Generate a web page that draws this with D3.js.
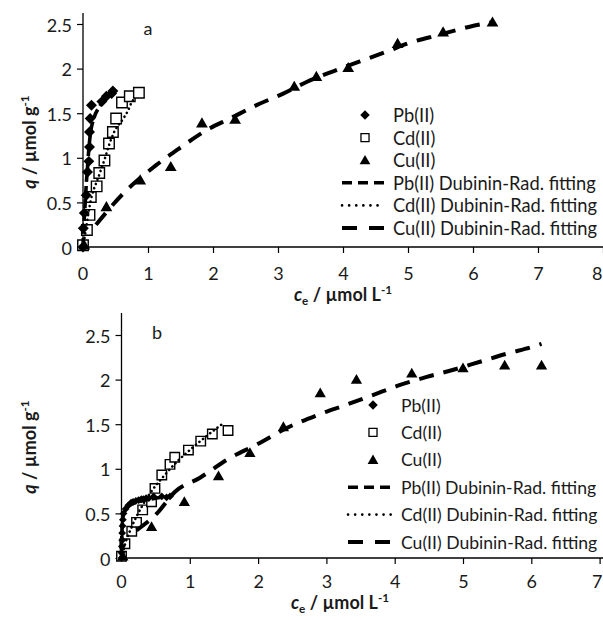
<!DOCTYPE html>
<html><head><meta charset="utf-8">
<script src="https://cdn.jsdelivr.net/npm/d3@7"></script>
<style>body{margin:0;background:#fff}svg{display:block}text{font-family:Lato,"Open Sans",sans-serif;fill:#1a1a1a}</style>
</head><body>
<svg id="c" width="603" height="620"></svg>
<script>
// ---------- data, panel a ----------
const xTicksA = [0,1,2,3,4,5,6,7,8];
const yTicks = [0,0.5,1,1.5,2,2.5];
const yTickLabels = ["0","0.5","1","1.5","2","2.5"];
const pbA_x = [0,0.005,0.02,0.05,0.07,0.09,0.1,0.1,0.11,0.13,0.29,0.36,0.44,0.46];
const pbA_q = [0,0.21,0.38,0.58,0.84,0.96,1.12,1.29,1.44,1.59,1.63,1.69,1.72,1.75];
const cdA_x = [0,0.06,0.1,0.12,0.21,0.25,0.33,0.4,0.46,0.51,0.6,0.72,0.86];
const cdA_q = [0.02,0.19,0.36,0.56,0.68,0.83,0.97,1.16,1.29,1.44,1.62,1.69,1.73];
const cuA_x = [0.02,0.36,0.88,1.35,1.83,2.34,3.25,3.59,4.08,4.84,5.54,6.3];
const cuA_q = [0.02,0.45,0.75,0.9,1.39,1.43,1.8,1.91,2.01,2.28,2.41,2.52];
const pbFitA_x = [0,0.01,0.03,0.05,0.07,0.09,0.12,0.17,0.25,0.35,0.46];
const pbFitA_q = [0,0.2,0.45,0.7,0.9,1.1,1.3,1.45,1.57,1.66,1.75];
const cdFitA_x = [0,0.05,0.1,0.25,0.34,0.39,0.48,0.62,0.7,0.74,0.8];
const cdFitA_q = [0,0.22,0.45,0.81,1.0,1.12,1.29,1.44,1.54,1.61,1.67];
const cuFitA_x = [0.2,0.62,1.13,1.49,1.9,2.26,2.67,3.08,3.44,3.85,4.26,4.67,5.03,5.49,5.95,6.3];
const cuFitA_q = [0.25,0.6,0.92,1.11,1.31,1.44,1.59,1.72,1.85,1.97,2.08,2.19,2.29,2.38,2.47,2.52];
// ---------- data, panel b ----------
const xTicksB = [0,1,2,3,4,5,6,7];
const pbB_x = [0,0,0.005,0.01,0.01,0.015,0.02,0.03,0.06,0.1,0.14,0.17,0.21,0.25,0.29,0.32,0.36,0.4,0.47,0.59,0.66,0.71];
const pbB_q = [0,0.06,0.13,0.2,0.28,0.36,0.43,0.5,0.55,0.59,0.62,0.63,0.64,0.65,0.66,0.66,0.67,0.67,0.69,0.69,0.68,0.69];
const cdB_x = [0,0.05,0.15,0.22,0.31,0.44,0.49,0.59,0.71,0.78,0.98,1.16,1.33,1.56];
const cdB_q = [0.02,0.16,0.3,0.4,0.54,0.63,0.78,0.93,1.05,1.13,1.21,1.31,1.39,1.43];
const cuB_x = [0.02,0.44,0.92,1.42,1.88,2.37,2.91,3.44,4.25,5.0,5.61,6.15];
const cuB_q = [0.02,0.35,0.63,0.92,1.18,1.47,1.85,2.0,2.07,2.13,2.16,2.16];
const pbFitB_x = [0,0.005,0.02,0.05,0.1,0.2,0.35,0.5,0.72];
const pbFitB_q = [0,0.25,0.45,0.53,0.58,0.62,0.65,0.67,0.69];
const cdFitB_x = [0,0.05,0.15,0.3,0.45,0.61,0.8,1.03,1.25,1.49];
const cdFitB_q = [0,0.15,0.35,0.58,0.76,0.91,1.07,1.23,1.37,1.51];
const cuFitB_x = [0.22,0.52,0.78,1.15,1.54,2.0,2.4,2.86,3.3,3.69,4.08,4.47,4.86,5.25,5.64,6.03,6.15];
const cuFitB_q = [0.31,0.5,0.74,0.9,1.1,1.28,1.45,1.6,1.72,1.83,1.94,2.03,2.11,2.2,2.29,2.37,2.4];
const legendLabels = ["Pb(II)","Cd(II)","Cu(II)","Pb(II) Dubinin-Rad. fitting","Cd(II) Dubinin-Rad. fitting","Cu(II) Dubinin-Rad. fitting"];

const svg = d3.select("#c");
const W = 603;
const zip = (a,b)=>a.map((v,i)=>[v,b[i]]);

function panel(cfg){
  const g = svg.append("g");
  const x = d3.scaleLinear().domain([0,cfg.xmax]).range(cfg.xr);
  const y = d3.scaleLinear().domain([0,2.5]).range(cfg.yr);
  const fs = cfg.fs;
  // axes
  const ax = d3.axisBottom(x).tickValues(cfg.xticks).tickSize(6).tickFormat(d3.format("d"));
  const xg = g.append("g").attr("transform",`translate(0,${cfg.yr[0]})`).call(ax);
  xg.attr("font-family",null).attr("font-size",null);
  xg.select(".domain").attr("d",`M${cfg.xr[0]},0H${cfg.xAxisEnd}`).attr("stroke","#000").attr("stroke-width",1.3);
  xg.selectAll(".tick line").attr("stroke","#000").attr("stroke-width",1.2);
  xg.selectAll(".tick text").attr("font-size",fs).attr("dy",null).attr("y",cfg.xLabOff).attr("dominant-baseline","central").attr("fill","#1a1a1a");
  // keep the last tick label inside the picture
  xg.selectAll(".tick text").each(function(){
    const bb = this.getBBox();
    const tx = x(d3.select(this.parentNode).datum());
    if (tx + bb.x + bb.width > W - 1) d3.select(this).attr("text-anchor","end").attr("x", W - 1 - tx);
  });
  const ay = d3.axisLeft(y).tickValues(yTicks).tickSize(6).tickPadding(5).tickFormat(d=>yTickLabels[yTicks.indexOf(d)]);
  const yg = g.append("g").attr("transform",`translate(${cfg.xr[0]},0)`).call(ay);
  yg.attr("font-family",null).attr("font-size",null);
  yg.select(".domain").attr("d",`M0,${cfg.yr[0]}V${cfg.yAxisTop}`).attr("stroke","#000").attr("stroke-width",1.3);
  yg.selectAll(".tick line").attr("stroke","#000").attr("stroke-width",1.2);
  yg.selectAll(".tick text").attr("font-size",fs).attr("dy",null).attr("dominant-baseline","central").attr("fill","#1a1a1a");

  const line = d3.line().x(d=>x(d[0])).y(d=>y(d[1])).curve(d3.curveMonotoneX);
  const lstyle = [
    {dash:"9,4", w:3.6},
    {dash:"0.1,4.5", w:2.6},
    {dash:"15,10", w:4}
  ];
  const diamond = d3.symbol().type(d3.symbolSquare).size(cfg.dsz);
  const square = d3.symbol().type(d3.symbolSquare).size(cfg.ssz);
  const tri = d3.symbol().type(d3.symbolTriangle).size(cfg.tsz);
  const mk = [
    (sel)=>sel.attr("d",diamond()).attr("fill","#000").attr("transform",p=>`translate(${x(p[0])},${y(p[1])}) rotate(45)`),
    (sel)=>sel.attr("d",square()).attr("fill","#fff").attr("stroke","#000").attr("stroke-width",1.4).attr("transform",p=>`translate(${x(p[0])},${y(p[1])})`),
    (sel)=>sel.attr("d",tri()).attr("fill","#000").attr("transform",p=>`translate(${x(p[0])},${y(p[1])+1})`)
  ];
  const order = [1,2,0];
  order.forEach(i=>{
    g.append("g").selectAll("path").data(cfg.series[i]).join("path").call(mk[i]);
    const f = cfg.fits[i];
    g.append("path").datum(f).attr("d",line).attr("fill","none").attr("stroke","#000")
      .attr("stroke-width",lstyle[i].w).attr("stroke-dasharray",lstyle[i].dash).attr("stroke-linecap",i===1?"round":"butt");
  });
  // legend
  const lg = g.append("g");
  legendLabels.forEach((t,i)=>{
    const yy = cfg.legY + i*cfg.legStep;
    if(i<3){
      const p=[x.invert(cfg.legMx), y.invert(yy)];
      const el = lg.append("path").datum(p).call(mk[i]);
      if(i===0) el.attr("d",d3.symbol().type(d3.symbolSquare).size(cfg.ldsz)());
      if(i===1) el.attr("d",d3.symbol().type(d3.symbolSquare).size(cfg.lssz)()).attr("stroke-width",1.3);
      if(i===2) el.attr("d",d3.symbol().type(d3.symbolTriangle).size(cfg.ltsz)());
    } else {
      const k=i-3;
      lg.append("line").attr("x1",cfg.legL0).attr("x2",cfg.legL1).attr("y1",yy).attr("y2",yy)
        .attr("stroke","#000").attr("stroke-width",lstyle[k].w)
        .attr("stroke-dasharray",k===0?"10,6":k===1?"0.1,7":"15,12").attr("stroke-linecap",k===1?"round":"butt");
    }
    lg.append("text").attr("x",cfg.legTx).attr("y",yy).attr("dominant-baseline","central").attr("font-size",cfg.legFs).text(t);
  });
  // panel letter
  g.append("text").attr("x",cfg.letter[0]).attr("y",cfg.letter[1]).attr("text-anchor","middle").attr("dominant-baseline","central").attr("font-size",fs).text(cfg.letter[2]);
  // x title
  const xt = g.append("text").attr("x",cfg.xTitle[0]).attr("y",cfg.xTitle[1]).attr("text-anchor","middle").attr("font-size",fs).attr("font-weight","bold");
  xt.append("tspan").attr("font-style","italic").text("c");
  xt.append("tspan").attr("font-size",fs*0.65).attr("dy",4).text("e");
  xt.append("tspan").attr("dy",-4).text(" / µmol L");
  xt.append("tspan").attr("font-size",fs*0.65).attr("dy",-7).text("-1");
  // y title
  const yt = g.append("text").attr("transform",`translate(${cfg.yTitle[0]},${cfg.yTitle[1]}) rotate(-90)`).attr("text-anchor","middle").attr("font-size",fs).attr("font-weight","bold");
  yt.append("tspan").attr("font-style","italic").text("q");
  yt.append("tspan").text(" / µmol g");
  yt.append("tspan").attr("font-size",fs*0.65).attr("dy",-7).text("-1");
  // origin "0" x label
  g.append("text").attr("x",x(0)).attr("y",cfg.yr[0]+cfg.xLabOff).attr("text-anchor","middle").attr("dominant-baseline","central").attr("font-size",fs).text(d3.format("d")(xTicksA[0]));
}

panel({
  xmax:8, xr:[83,603], yr:[247,24], xticks:xTicksA.slice(1), xAxisEnd:603, yAxisTop:13,
  fs:18, xLabOff:26, dsz:60, ssz:110, tsz:60, ldsz:45, lssz:65, ltsz:50,
  series:[zip(pbA_x,pbA_q), zip(cdA_x,cdA_q), zip(cuA_x,cuA_q)],
  fits:[zip(pbFitA_x,pbFitA_q), zip(cdFitA_x,cdFitA_q), zip(cuFitA_x,cuFitA_q)],
  legY:115, legStep:22.6, legMx:365, legL0:342, legL1:384, legTx:393, legFs:18.3,
  letter:[148,28,"a"], xTitle:[343,301], yTitle:[36,142]
});
panel({
  xmax:7, xr:[121.5,599.6], yr:[558,335], xticks:xTicksB.slice(1), xAxisEnd:603, yAxisTop:313,
  fs:18, xLabOff:23, dsz:30, ssz:90, tsz:55, ldsz:45, lssz:65, ltsz:50,
  series:[zip(pbB_x,pbB_q), zip(cdB_x,cdB_q), zip(cuB_x,cuB_q)],
  fits:[zip(pbFitB_x,pbFitB_q), zip(cdFitB_x,cdFitB_q), zip(cuFitB_x,cuFitB_q)],
  legY:405, legStep:27.4, legMx:373, legL0:348, legL1:392, legTx:401, legFs:17.6,
  letter:[157,332,"b"], xTitle:[340,609], yTitle:[36,447]
});
</script>
</body></html>
